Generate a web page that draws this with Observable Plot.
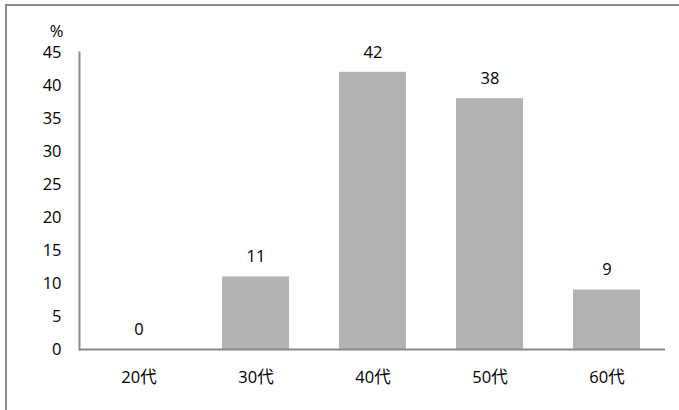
<!DOCTYPE html>
<html>
<head>
<meta charset="utf-8">
<script src="https://cdn.jsdelivr.net/npm/d3@7"></script>
<script src="https://cdn.jsdelivr.net/npm/@observablehq/plot@0.6"></script>
<style>
  html, body { margin: 0; padding: 0; background: #fff; }
  #wrap { position: relative; width: 679px; height: 410px; overflow: hidden; }
  #box { position: absolute; left: 5px; top: 4px; width: 700px; height: 430px;
         border-left: 2px solid #8a8a8a; border-top: 2px solid #8a8a8a; }
  #chart { position: absolute; left: 0; top: 0; }
  #chart svg { font-family: "Open Sans", "Noto Sans CJK JP", sans-serif; }
</style>
</head>
<body>
<div id="wrap">
  <div id="box"></div>
  <div id="chart"></div>
</div>
<script>
// Age groups and share of respondents (%)
const ageGroups = ["20代", "30代", "40代", "50代", "60代"];
const shares = [0, 11, 42, 38, 9];
const yTicks = [0, 5, 10, 15, 20, 25, 30, 35, 40, 45];

const rows = ageGroups.map((g, i) => ({group: g, value: shares[i]}));
const fs = 16.5;

const chart = Plot.plot({
  width: 679,
  height: 410,
  marginLeft: 79,
  marginRight: 14,
  marginTop: 52,
  marginBottom: 61,
  style: {background: "transparent", fontSize: fs + "px", color: "#000"},
  x: {domain: ageGroups, paddingInner: 0.43, paddingOuter: 0.215, label: null},
  y: {domain: [0, 45], label: null},
  marks: [
    Plot.barY(rows, {x: "group", y: "value", fill: "#b3b3b3"}),
    Plot.text(rows, {x: "group", y: "value", text: d => String(d.value), dy: -20, fill: "#000", fontSize: fs}),
    Plot.axisY(yTicks, {tickSize: 0, tickPadding: 18, fontSize: fs, label: null, fill: "#000"}),
    Plot.axisX({tickSize: 0, tickPadding: 22, fontSize: fs, label: null, fill: "#000"}),
    // unit label above the y axis
    Plot.text(["%"], {frameAnchor: "top-left", textAnchor: "middle", lineAnchor: "middle", dx: -23, dy: -21, fontSize: fs, fill: "#000"}),
    Plot.frame({anchor: "left", stroke: "#8a8a8a", strokeWidth: 2}),
    Plot.ruleY([0], {stroke: "#8a8a8a", strokeWidth: 2})
  ]
});
document.getElementById("chart").appendChild(chart);
</script>
</body>
</html>
